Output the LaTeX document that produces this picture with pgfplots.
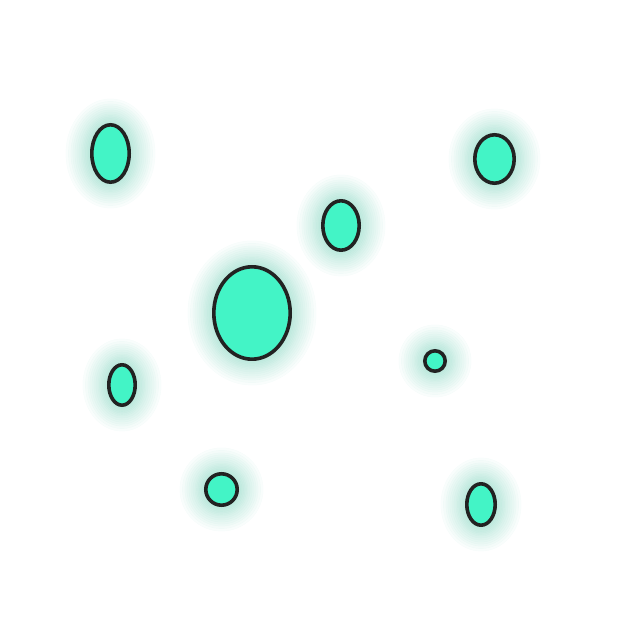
\documentclass[border=0pt]{standalone}
\usepackage{pgfplots}
\usepackage{pgfplotstable}
\pgfplotsset{compat=1.18}
\definecolor{bubble}{HTML}{43F4C6}
\definecolor{glow}{HTML}{2FB894}
\definecolor{edge}{HTML}{222222}

% pixel positions of the reference (y measured from the top), outer radii
\pgfplotstableread{
px    py     rx    ry
110.5 153.5  20.5  30.5
494.5 159.0  21.5  26.0
341.0 225.5  20.0  26.5
252.0 313.0  40.0  48.0
122.0 385.0  15.0  22.0
435.0 361.0  12.0  12.0
221.5 489.5  17.5  17.5
481.0 504.5  16.0  22.5
}\bubbles

\begin{document}
\begin{tikzpicture}
\begin{axis}[
    width=625pt, height=626pt, scale only axis,
    xmin=0, xmax=625, ymin=0, ymax=626,
    hide axis, clip=false,
]
\path (rel axis cs:0,0) rectangle (rel axis cs:1,1);
\addplot[
    scatter, only marks, mark=*, mark size=0pt,
    mark options={opacity=0},
    visualization depends on={\thisrow{rx} \as \rx},
    visualization depends on={\thisrow{ry} \as \ry},
    scatter/@pre marker code/.code={%
        \pgfmathsetmacro{\ax}{\rx-1.8}%
        \pgfmathsetmacro{\ay}{\ry-1.8}%
        \foreach \k in {26,23.5,21,19,17,15,13,11,9.5,8,6.5,5,3.5,2}{%
            \fill[glow, opacity=0.028] (0,0) ellipse [x radius=\ax pt+\k pt, y radius=\ay pt+\k pt];
        }%
        \filldraw[fill=bubble, draw=edge, line width=3.6pt, opacity=1] (0,0) ellipse [x radius=\ax pt, y radius=\ay pt];
    },
    scatter/@post marker code/.code={},
] table[x=px, y expr=626-\thisrow{py}] {\bubbles};
\end{axis}
\end{tikzpicture}
\end{document}
